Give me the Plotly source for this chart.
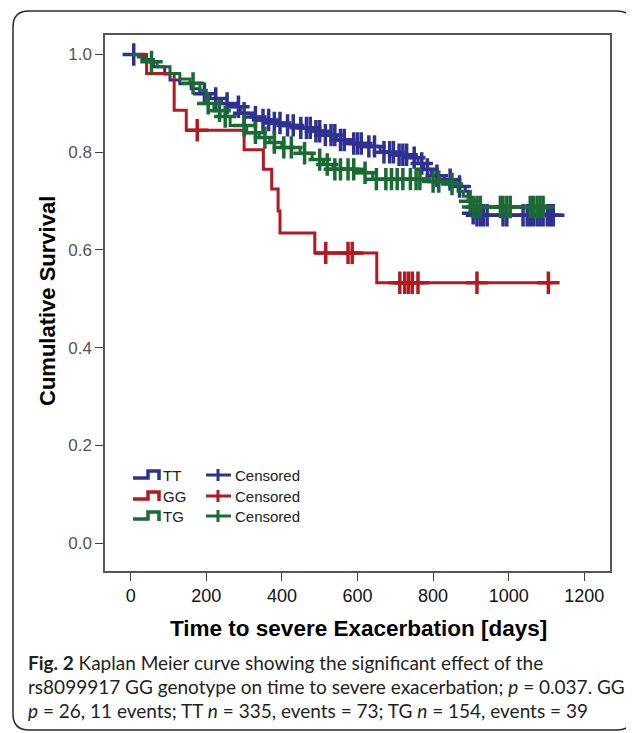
import numpy as np
import plotly.graph_objects as go

# ---------------- data ----------------
# TT genotype
tt_t = [30, 60, 90, 104, 130, 160, 183, 210, 240, 262, 290, 320, 342, 370, 400, 440, 480,
        510, 545, 580, 620, 660, 700, 742, 760, 775, 795, 830, 860, 885, 893, 900, 905, 915]
tt_s = [0.99, 0.975, 0.96, 0.948, 0.94, 0.93, 0.92, 0.91, 0.90, 0.893, 0.88, 0.872, 0.866,
        0.86, 0.855, 0.85, 0.843, 0.835, 0.825, 0.818, 0.812, 0.80, 0.795, 0.789, 0.777,
        0.765, 0.752, 0.744, 0.73, 0.72, 0.705, 0.69, 0.675, 0.671]
tt_end = 1140
tt_cens = [8, 195, 225, 255, 285, 300, 330, 350, 365, 380, 395, 415, 430, 450, 465, 475, 490,
           500, 515, 530, 540, 555, 565, 590, 600, 610, 630, 645, 670, 685, 695, 710, 720,
           730, 750, 770, 785, 810, 845, 870, 906, 916, 925, 933, 943, 985, 995, 1038, 1049,
           1057, 1065, 1075, 1083, 1091, 1102, 1110, 1118]

# GG genotype
gg_t = [42, 115, 147, 300, 351, 373, 390, 395, 487, 651]
gg_s = [0.961, 0.886, 0.845, 0.805, 0.765, 0.725, 0.68, 0.635, 0.594, 0.533]
gg_end = 1117
gg_cens = [176, 516, 575, 586, 712, 725, 735, 745, 760, 916, 1105]

# TG genotype
tg_t = [20, 42, 70, 104, 130, 157, 183, 200, 220, 236, 263, 307, 340, 368, 400, 448, 480,
        510, 535, 600, 640, 780, 830, 866, 880, 893, 905]
tg_s = [0.995, 0.985, 0.975, 0.961, 0.95, 0.941, 0.927, 0.90, 0.885, 0.873, 0.855, 0.84,
        0.83, 0.82, 0.81, 0.798, 0.785, 0.775, 0.765, 0.758, 0.745, 0.74, 0.735, 0.72,
        0.71, 0.70, 0.688]
tg_end = 1118
tg_cens = [55, 165, 205, 235, 250, 300, 330, 355, 380, 405, 425, 460, 500, 520, 540, 555,
           575, 590, 620, 650, 675, 690, 705, 720, 740, 755, 765, 800, 815, 850, 898, 906,
           916, 925, 978, 985, 995, 1004, 1057, 1065, 1075, 1083, 1091]

x_ticks = [0, 200, 400, 600, 800, 1000, 1200]
y_ticks = [0.0, 0.2, 0.4, 0.6, 0.8, 1.0]

C_TT = "#2e3192"
C_GG = "#b3191f"
C_TG = "#1a6a33"

# page has an 8px body margin; lay out in page pixel coords
OFF = 8
W, H = 634 - OFF, 733 - OFF
PL, PR, PT, PB = 105, 610, 35, 571          # plot frame in page pixels
L, T = PL - OFF, PT - OFF
R = W - (PR - OFF)
B = H - (PB - OFF)
PW, PH = PR - PL, PB - PT


def px(x):
    return (x - PL) / PW


def py(y):
    return (PB - y) / PH


def step_val(times, surv, t):
    idx = np.searchsorted(np.array(times), t, side="right")
    return 1.0 if idx == 0 else surv[idx - 1]


fig = go.Figure()

for times, surv, end, cens, col in [
    (tt_t, tt_s, tt_end, tt_cens, C_TT),
    (gg_t, gg_s, gg_end, gg_cens, C_GG),
    (tg_t, tg_s, tg_end, tg_cens, C_TG),
]:
    xs = [0] + list(times) + [end]
    ys = [1.0] + list(surv) + [surv[-1]]
    fig.add_trace(go.Scatter(x=xs, y=ys, mode="lines", line=dict(color=col, width=3, shape="hv"),
                             showlegend=False, hoverinfo="skip"))
    fig.add_trace(go.Scatter(x=cens, y=[step_val(times, surv, c) for c in cens], mode="markers",
                             marker=dict(symbol="cross-thin", size=16, line=dict(color=col, width=3.5)),
                             showlegend=False, hoverinfo="skip"))

shapes = []
annotations = []

# outer rounded box
x0, x1, y0, y1 = px(13), px(633), py(730), py(11)
rx, ry = 16 / PW, 16 / PH
path = (f"M {x0+rx},{y1} L {x1-rx},{y1} Q {x1},{y1} {x1},{y1-ry} L {x1},{y0+ry} "
        f"Q {x1},{y0} {x1-rx},{y0} L {x0+rx},{y0} Q {x0},{y0} {x0},{y0+ry} "
        f"L {x0},{y1-ry} Q {x0},{y1} {x0+rx},{y1} Z")
shapes.append(dict(type="path", xref="paper", yref="paper", path=path,
                   line=dict(color="#2a2a2a", width=1.5), layer="below"))

# legend
rows = [("TT", C_TT, 475), ("GG", C_GG, 496), ("TG", C_TG, 516)]
for lab, col, yc in rows:
    p = (f"M {px(133)},{py(yc+3)} L {px(148)},{py(yc+3)} L {px(148)},{py(yc-4)} "
         f"L {px(159)},{py(yc-4)} L {px(159)},{py(yc+5)}")
    shapes.append(dict(type="path", xref="paper", yref="paper", path=p,
                       line=dict(color=col, width=3.5)))
    shapes.append(dict(type="line", xref="paper", yref="paper", x0=px(206), x1=px(231),
                       y0=py(yc), y1=py(yc), line=dict(color=col, width=3)))
    shapes.append(dict(type="line", xref="paper", yref="paper", x0=px(218), x1=px(218),
                       y0=py(yc - 6), y1=py(yc + 6), line=dict(color=col, width=3)))
    annotations.append(dict(text=lab, xref="paper", yref="paper", x=px(161), y=py(yc),
                            xanchor="left", yanchor="middle", showarrow=False,
                            font=dict(family="Liberation Sans, Arial", size=15, color="#222")))
    annotations.append(dict(text="Censored", xref="paper", yref="paper", x=px(233), y=py(yc),
                            xanchor="left", yanchor="middle", showarrow=False,
                            font=dict(family="Liberation Sans, Arial", size=15, color="#222")))

# axis titles
annotations.append(dict(text="<b>Cumulative Survival</b>", xref="paper", yref="paper",
                        x=px(47), y=py(301), textangle=-90, showarrow=False,
                        xanchor="center", yanchor="middle",
                        font=dict(family="Liberation Sans, Arial", size=22, color="#000")))
annotations.append(dict(text="<b>Time to severe Exacerbation [days]</b>", xref="paper", yref="paper",
                        x=px(358), y=py(628), showarrow=False, xanchor="center", yanchor="middle",
                        font=dict(family="Liberation Sans, Arial", size=22.5, color="#000")))

# caption
cap = ["<b>Fig. 2</b> Kaplan Meier curve showing the significant effect of the",
       "rs8099917 GG genotype on time to severe exacerbation; <i>p</i> = 0.037. GG",
       "<i>p</i> = 26, 11 events; TT <i>n</i> = 335, events = 73; TG <i>n</i> = 154, events = 39"]
for i, line in enumerate(cap):
    annotations.append(dict(text=line, xref="paper", yref="paper", x=px(26), y=py(662 + 24 * i),
                            xanchor="left", yanchor="middle", showarrow=False,
                            font=dict(family="Lato, Open Sans", size=19, color="#231f20")))

fig.update_layout(
    width=W, height=H, margin=dict(l=L, r=R, t=T, b=B),
    paper_bgcolor="white", plot_bgcolor="white",
    shapes=shapes, annotations=annotations, showlegend=False,
    xaxis=dict(range=[-68, 1268], tickvals=x_ticks, ticks="outside", ticklen=8, tickwidth=1.2,
               tickcolor="#444", showline=True, linecolor="#555", linewidth=1.5, mirror=True,
               showgrid=False, zeroline=False,
               tickfont=dict(family="Liberation Sans, Arial", size=18, color="#111")),
    yaxis=dict(range=[-0.057, 1.04], tickvals=y_ticks, tickformat=".1f", ticks="outside",
               ticklen=8, tickwidth=1.2, tickcolor="#444", showline=True, linecolor="#555",
               linewidth=1.5, mirror=True, showgrid=False, zeroline=False,
               tickfont=dict(family="Liberation Sans, Arial", size=17, color="#555")),
)

fig.write_html("out.html")
